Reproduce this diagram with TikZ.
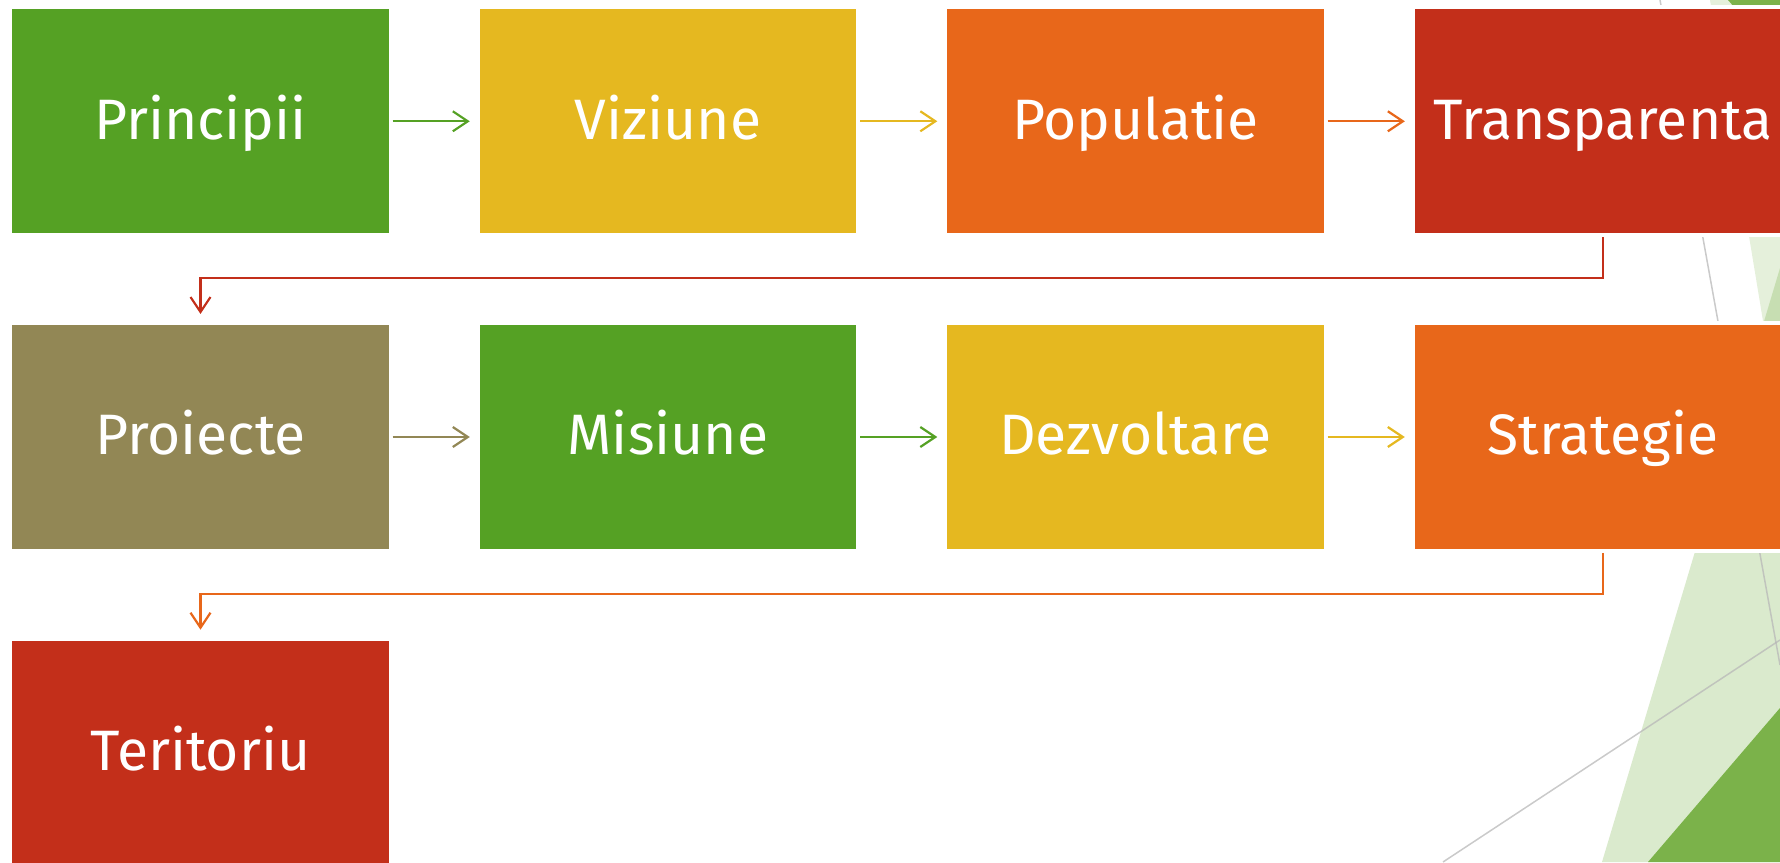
\documentclass[tikz,border=0pt]{standalone}
\usepackage{fontspec}
\setmainfont{Fira Sans}
\usetikzlibrary{arrows.meta}
\definecolor{cgreen}{HTML}{55A124}
\definecolor{cyellow}{HTML}{E5B820}
\definecolor{corange}{HTML}{E8671A}
\definecolor{cred}{HTML}{C32F1A}
\definecolor{colive}{HTML}{928755}
\definecolor{decogreen}{HTML}{7BB24A}
\definecolor{decogray}{HTML}{B8B8B8}
\begin{document}
\begin{tikzpicture}[x=1pt,y=1pt,
  box/.style={rectangle, draw=white, line width=4pt, inner sep=0pt,
    minimum width=380.4pt, minimum height=228pt, text=white,
    font=\fontsize{57}{68}\selectfont, text height=36pt, text depth=0pt},
  conn/.style={line width=2.2pt, -{Straight Barb[length=15pt,width=20pt]}},
  decoline/.style={decogray, line width=1.5pt, opacity=0.75}
]
\useasboundingbox (0,0) rectangle (1780,862);
\clip (0,0) rectangle (1780,862);
% background decoration
\fill[decogreen, opacity=0.2] (1710,862) -- (1780,862) -- (1780,438) -- cycle;
\fill[decogreen, opacity=0.28] (1780,594) -- (1602,0) -- (1780,0) -- cycle;
\fill[decogreen] (1780,154) -- (1648,0) -- (1780,0) -- cycle;
\fill[decogreen] (1728,862) -- (1780,862) -- (1780,802) -- cycle;
\draw[decoline] (1660,862) -- (1780,197);
\draw[decoline] (1443,0) -- (1780,222);
% boxes
\node[box, fill=cgreen]  (pc) at (200.5,740.7) {Principii};
\node[box, fill=cyellow] (vz) at (668,740.7)   {Viziune};
\node[box, fill=corange] (po) at (1135.5,740.7) {Populatie};
\node[box, fill=cred]    (tr) at (1603,740.7)  {Transparenta};
\node[box, fill=colive]  (pr) at (200.5,425)   {Proiecte};
\node[box, fill=cgreen]  (mi) at (668,425)     {Misiune};
\node[box, fill=cyellow] (dz) at (1135.5,425)  {Dezvoltare};
\node[box, fill=corange] (st) at (1603,425)    {Strategie};
\node[box, fill=cred]    (te) at (200.5,109.3) {Teritoriu};
% connectors
\draw[conn, cgreen, shorten >=6pt]  (pc.east) -- (vz.west);
\draw[conn, cyellow, shorten >=6pt] (vz.east) -- (po.west);
\draw[conn, corange, shorten >=6pt] (po.east) -- (tr.west);
\draw[conn, colive, shorten >=6pt]  (pr.east) -- (mi.west);
\draw[conn, cgreen, shorten >=6pt]  (mi.east) -- (dz.west);
\draw[conn, cyellow, shorten >=6pt] (dz.east) -- (st.west);
\draw[conn, cred, shorten >=7pt]    (tr.south) -- ++(0,-41) -| (pr.north);
\draw[conn, corange, shorten >=7pt] (st.south) -- ++(0,-41) -| (te.north);
\end{tikzpicture}
\end{document}
